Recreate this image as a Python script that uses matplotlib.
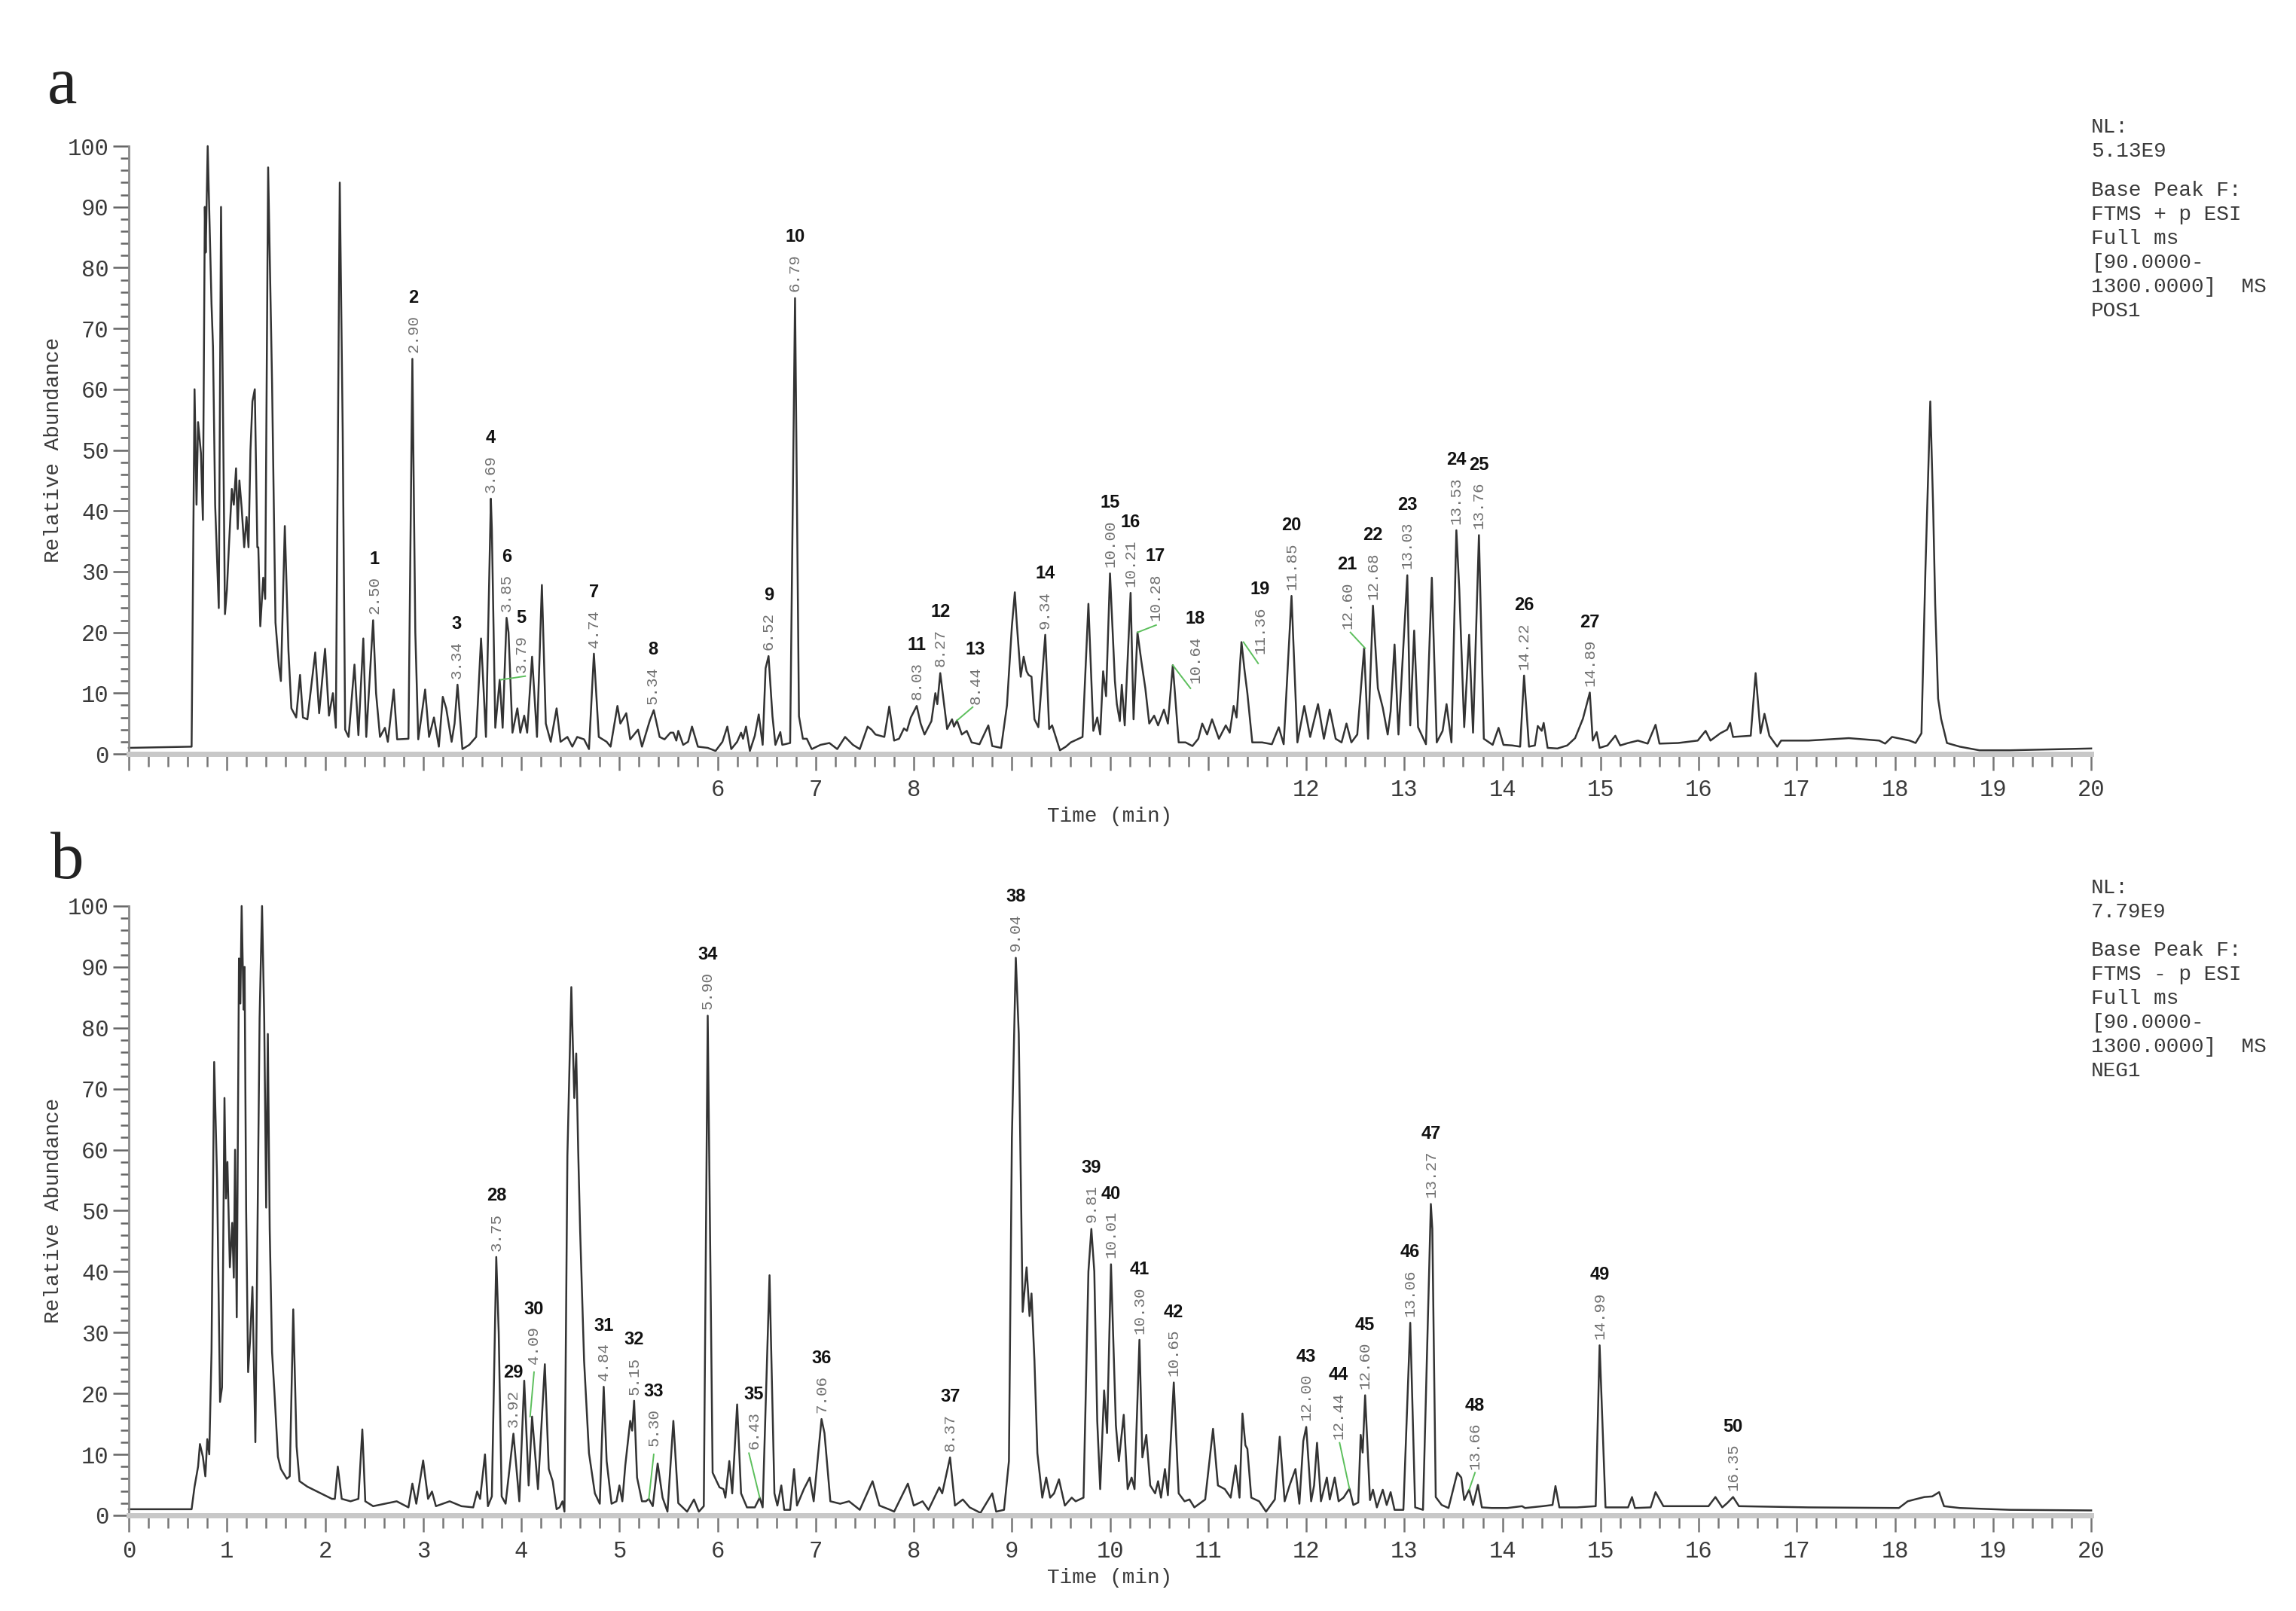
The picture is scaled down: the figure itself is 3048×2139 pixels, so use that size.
import matplotlib
matplotlib.use("Agg")
import matplotlib.pyplot as plt
from matplotlib.ticker import MultipleLocator, FixedLocator, FixedFormatter

# base peak chromatogram, positive mode (time min, relative abundance %)
pos_trace = [
    (0.00, 1.0), (0.64, 1.2), (0.67, 60), (0.69, 41), (0.706, 54.6), (0.735, 49.5), (0.755, 38.5),
    (0.775, 90), (0.784, 82.5), (0.804, 100), (0.843, 74), (0.858, 67), (0.88, 41), (0.917, 24),
    (0.94, 90), (0.98, 23), (1.00, 27), (1.02, 34), (1.05, 43.6), (1.07, 41), (1.093, 47), (1.11, 37),
    (1.127, 45), (1.15, 40.5), (1.176, 34), (1.20, 39), (1.22, 34), (1.24, 50), (1.26, 58), (1.284, 60),
    (1.31, 34), (1.32, 34), (1.34, 21), (1.37, 29), (1.39, 25.5), (1.42, 96.5), (1.46, 61), (1.495, 21.6),
    (1.53, 14.5), (1.55, 12), (1.59, 37.5), (1.627, 17), (1.657, 7.5), (1.706, 6), (1.745, 13), (1.775, 6),
    (1.82, 5.7), (1.90, 16.7), (1.94, 6.7), (2.00, 17.3), (2.04, 6.3), (2.08, 10), (2.11, 4.3), (2.15, 94),
    (2.18, 53), (2.205, 4), (2.24, 2.8), (2.30, 14.7), (2.34, 3.1), (2.39, 19), (2.42, 2.8), (2.49, 22),
    (2.52, 10), (2.56, 2.8), (2.61, 4.3), (2.64, 2), (2.70, 10.6), (2.735, 2.4), (2.85, 2.5), (2.89, 65),
    (2.92, 20), (2.95, 2.4), (3.02, 10.6), (3.06, 2.8), (3.11, 6), (3.16, 1.2), (3.20, 9.4), (3.235, 7.5),
    (3.29, 2), (3.32, 5), (3.35, 11.4), (3.40, 0.8), (3.47, 1.5), (3.54, 2.8), (3.59, 19), (3.64, 2.8),
    (3.69, 42), (3.70, 37), (3.735, 4.3), (3.78, 12.2), (3.81, 4.3), (3.85, 22.4), (3.87, 20), (3.91, 3.5),
    (3.96, 7.5), (3.99, 3.5), (4.03, 6.3), (4.06, 3.5), (4.11, 16), (4.16, 2.8), (4.21, 27.8), (4.25, 5),
    (4.30, 2), (4.36, 7.5), (4.40, 2), (4.47, 2.8), (4.52, 1.2), (4.57, 2.8), (4.64, 2.4), (4.69, 0.8),
    (4.74, 16.5), (4.79, 2.8), (4.87, 2), (4.91, 1.2), (4.98, 7.9), (5.01, 5), (5.07, 6.7), (5.11, 2.4),
    (5.19, 4), (5.23, 1.2), (5.31, 5.5), (5.35, 7.2), (5.41, 2.8), (5.46, 2.4), (5.52, 3.5), (5.55, 3.5),
    (5.58, 2.2), (5.60, 3.8), (5.65, 1.5), (5.70, 2.0), (5.74, 4.5), (5.80, 1.2), (5.90, 1.0), (5.98, 0.5),
    (6.05, 2.0), (6.10, 4.5), (6.14, 0.8), (6.20, 2.0), (6.24, 3.5), (6.26, 2.5), (6.29, 4.5), (6.33, 0.5),
    (6.38, 3.0), (6.42, 6.5), (6.46, 1.5), (6.49, 14.1), (6.52, 16.1), (6.56, 6.2), (6.59, 1.5), (6.64, 3.6),
    (6.66, 1.5), (6.74, 1.8), (6.79, 75), (6.83, 6.2), (6.87, 2.5), (6.91, 2.5), (6.96, 0.8), (7.05, 1.5),
    (7.14, 1.8), (7.22, 0.8), (7.30, 2.8), (7.38, 1.5), (7.45, 0.8), (7.53, 4.5), (7.57, 4.0), (7.61, 3.2),
    (7.70, 2.8), (7.75, 7.8), (7.80, 2.2), (7.85, 2.5), (7.90, 4.2), (7.93, 3.8), (7.97, 6.0), (8.03, 7.9),
    (8.07, 5.0), (8.11, 3.2), (8.18, 5.4), (8.22, 10), (8.24, 8.2), (8.27, 13.3), (8.34, 4.1), (8.39, 5.7),
    (8.41, 4.5), (8.44, 5.5), (8.49, 3.2), (8.54, 3.8), (8.59, 1.9), (8.67, 1.6), (8.76, 4.7), (8.80, 1.3),
    (8.89, 1.0), (8.95, 8), (8.97, 13.3), (9.00, 21), (9.03, 26.6), (9.05, 21.5), (9.09, 12.7), (9.12, 16),
    (9.15, 13.6), (9.17, 13), (9.20, 12.7), (9.23, 5.7), (9.27, 4.4), (9.34, 19.6), (9.38, 4.1), (9.41, 4.7),
    (9.49, 0.6), (9.55, 1.2), (9.60, 1.9), (9.68, 2.5), (9.72, 2.8), (9.78, 24.7), (9.83, 3.8), (9.87, 6),
    (9.90, 3.2), (9.93, 13.6), (9.96, 9.5), (10.00, 29.7), (10.05, 12), (10.07, 8.2), (10.10, 5.4),
    (10.12, 11.4), (10.15, 4.7), (10.21, 26.5), (10.24, 5.7), (10.28, 20), (10.32, 15.2), (10.36, 10.8),
    (10.40, 5), (10.45, 6.3), (10.49, 4.7), (10.55, 7.3), (10.59, 5), (10.64, 14.6), (10.70, 1.9),
    (10.77, 1.9), (10.84, 1.3), (10.90, 2.5), (10.94, 5), (10.99, 3.2), (11.04, 5.7), (11.11, 2.5),
    (11.18, 4.7), (11.22, 3.5), (11.26, 7.9), (11.29, 6), (11.34, 18.4), (11.37, 13.9), (11.40, 10),
    (11.45, 1.9), (11.55, 1.9), (11.65, 1.6), (11.72, 4.4), (11.77, 1.6), (11.85, 26), (11.91, 1.9),
    (11.98, 7.9), (12.04, 2.8), (12.12, 8.2), (12.18, 2.5), (12.24, 7.3), (12.30, 2.5), (12.36, 1.9),
    (12.41, 5), (12.46, 1.9), (12.52, 3.2), (12.59, 17.4), (12.63, 2.5), (12.68, 24.4), (12.73, 10.8),
    (12.78, 7.6), (12.83, 3.2), (12.86, 7), (12.90, 18), (12.94, 3.2), (13.03, 29.4), (13.06, 4.7),
    (13.10, 20.3), (13.14, 4.4), (13.22, 1.6), (13.28, 29), (13.33, 1.9), (13.39, 3.8), (13.43, 8.2),
    (13.48, 1.9), (13.53, 36.8), (13.56, 27), (13.61, 4.4), (13.66, 19.6), (13.70, 3.5), (13.76, 36),
    (13.81, 2.5), (13.90, 1.5), (13.96, 4.3), (14.01, 1.5), (14.10, 1.4), (14.18, 1.2), (14.22, 12.9),
    (14.27, 1.2), (14.33, 1.4), (14.36, 4.6), (14.40, 3.8), (14.42, 5.1), (14.46, 1.0), (14.56, 0.9),
    (14.66, 1.4), (14.74, 2.6), (14.82, 5.8), (14.89, 10.1), (14.92, 2.2), (14.96, 3.6), (14.99, 1.0),
    (15.07, 1.4), (15.15, 3.0), (15.20, 1.4), (15.28, 1.8), (15.38, 2.2), (15.48, 1.7), (15.56, 4.8),
    (15.60, 1.7), (15.79, 1.8), (15.99, 2.2), (16.07, 3.8), (16.12, 2.2), (16.22, 3.4), (16.29, 4.0),
    (16.32, 5.1), (16.35, 2.8), (16.53, 3.0), (16.58, 13.3), (16.63, 3.4), (16.67, 6.6), (16.72, 3.0),
    (16.80, 1.2), (16.84, 2.2), (17.12, 2.2), (17.53, 2.6), (17.84, 2.2), (17.90, 1.7), (17.97, 2.8),
    (18.15, 2.2), (18.21, 1.8), (18.27, 3.4), (18.31, 30), (18.36, 58), (18.39, 40), (18.41, 24.7),
    (18.44, 9.1), (18.47, 5.8), (18.53, 1.8), (18.66, 1.2), (18.86, 0.6), (19.17, 0.6), (20.0, 0.9),
]

# base peak chromatogram, negative mode
neg_trace = [
    (0.00, 1.0), (0.64, 1.0), (0.67, 4.7), (0.706, 8), (0.725, 11.7), (0.755, 9.6), (0.78, 6.4),
    (0.80, 12.5), (0.82, 10), (0.843, 26.8), (0.87, 74.4), (0.90, 55), (0.93, 18.6), (0.95, 21),
    (0.975, 68.5), (0.99, 52), (1.005, 58), (1.03, 40.7), (1.054, 48), (1.07, 39), (1.083, 60), (1.10, 32.5),
    (1.123, 91.4), (1.137, 84), (1.15, 100), (1.17, 83), (1.18, 90), (1.196, 50), (1.216, 23.5),
    (1.235, 28.5), (1.26, 37.5), (1.29, 12), (1.333, 81.6), (1.358, 100), (1.38, 81.6), (1.40, 50.5),
    (1.417, 79), (1.436, 47), (1.46, 26.8), (1.485, 20), (1.52, 9.6), (1.55, 7.6), (1.61, 6), (1.64, 6.4),
    (1.676, 33.8), (1.71, 11.3), (1.74, 5.6), (1.82, 4.7), (1.92, 3.9), (2.07, 2.7), (2.10, 2.7), (2.13, 8),
    (2.17, 2.7), (2.26, 2.3), (2.34, 2.7), (2.38, 14.1), (2.41, 2.3), (2.49, 1.5), (2.61, 1.9), (2.73, 2.3),
    (2.85, 1.3), (2.89, 5.2), (2.93, 1.9), (3.00, 9), (3.02, 6.4), (3.05, 2.7), (3.09, 3.9), (3.13, 1.5),
    (3.27, 2.3), (3.39, 1.5), (3.51, 1.3), (3.55, 3.9), (3.58, 2.7), (3.63, 10), (3.66, 1.5), (3.70, 3.1),
    (3.745, 42.4), (3.77, 30), (3.80, 3.1), (3.84, 1.9), (3.92, 13.4), (3.98, 2.3), (4.03, 22.1),
    (4.075, 4.9), (4.11, 16.2), (4.17, 4.3), (4.24, 24.8), (4.28, 7.6), (4.32, 5.6), (4.36, 1.0),
    (4.39, 1.3), (4.42, 2.3), (4.44, 0.6), (4.47, 59), (4.51, 86.7), (4.54, 68.5), (4.56, 75.8),
    (4.58, 59.9), (4.60, 46.6), (4.64, 25.4), (4.69, 10.2), (4.75, 3.6), (4.80, 1.9), (4.84, 21.1),
    (4.87, 8.9), (4.92, 1.9), (4.97, 2.3), (5.00, 4.9), (5.03, 2.3), (5.06, 8.2), (5.11, 15.5),
    (5.13, 13.9), (5.15, 18.8), (5.18, 6.2), (5.23, 2.3), (5.27, 2.3), (5.30, 2.7), (5.34, 1.5),
    (5.39, 8.5), (5.44, 2.9), (5.49, 0.6), (5.55, 15.5), (5.60, 2.0), (5.69, 0.6), (5.76, 2.6),
    (5.81, 0.6), (5.86, 1.5), (5.90, 82), (5.95, 7), (6.02, 4.6), (6.06, 4.3), (6.08, 2.9), (6.12, 8.9),
    (6.15, 3.6), (6.20, 18.2), (6.24, 3.6), (6.30, 1.3), (6.38, 1.3), (6.43, 2.9), (6.46, 1.3),
    (6.53, 39.4), (6.58, 3.6), (6.61, 1.6), (6.65, 4.9), (6.68, 0.9), (6.74, 0.9), (6.78, 7.6),
    (6.81, 1.6), (6.88, 4.3), (6.94, 6.2), (6.98, 2.3), (7.06, 15.8), (7.09, 13.5), (7.15, 2.3),
    (7.25, 1.9), (7.34, 2.3), (7.45, 0.9), (7.58, 5.6), (7.65, 1.6), (7.76, 0.9), (7.80, 0.6),
    (7.94, 5.2), (8.00, 1.6), (8.09, 2.3), (8.15, 0.9), (8.26, 4.6), (8.29, 3.6), (8.37, 9.5),
    (8.42, 1.6), (8.50, 2.6), (8.57, 1.3), (8.68, 0.4), (8.80, 3.6), (8.84, 0.6), (8.92, 0.9),
    (8.97, 8.9), (9.00, 61.9), (9.04, 91.5), (9.07, 79), (9.11, 33.4), (9.15, 40.7), (9.18, 32.7),
    (9.20, 36.4), (9.23, 25.4), (9.26, 10.2), (9.31, 2.9), (9.35, 6.2), (9.39, 2.9), (9.43, 3.6),
    (9.48, 5.9), (9.54, 1.6), (9.61, 2.9), (9.65, 2.3), (9.73, 2.9), (9.78, 40), (9.81, 47), (9.84, 40),
    (9.87, 15.5), (9.90, 4.3), (9.94, 20.5), (9.97, 13.5), (10.01, 41.2), (10.06, 14.8), (10.09, 8.9),
    (10.14, 16.5), (10.18, 4.3), (10.22, 6.2), (10.25, 4.3), (10.30, 28.8), (10.33, 9.5), (10.37, 13.2),
    (10.41, 4.9), (10.46, 3.6), (10.49, 5.6), (10.52, 2.9), (10.56, 7.6), (10.59, 3.3), (10.65, 21.8),
    (10.70, 3.6), (10.76, 2.3), (10.81, 2.6), (10.86, 1.3), (10.97, 2.6), (11.05, 14.2), (11.10, 4.9),
    (11.17, 4.3), (11.23, 2.9), (11.28, 8.2), (11.32, 2.9), (11.35, 16.7), (11.38, 11.5), (11.40, 10.9),
    (11.44, 2.9), (11.52, 2.3), (11.59, 0.6), (11.68, 2.6), (11.73, 12.9), (11.78, 2.3), (11.83, 4.9),
    (11.89, 7.6), (11.93, 1.9), (11.97, 12.2), (12.00, 14.5), (12.05, 2.3), (12.08, 4.9), (12.11, 11.9),
    (12.15, 2.3), (12.21, 6.2), (12.24, 2.6), (12.29, 6.2), (12.33, 2.3), (12.38, 2.9), (12.44, 4.4),
    (12.48, 1.7), (12.53, 2.1), (12.555, 13.2), (12.575, 10.3), (12.60, 19.7), (12.65, 2.5), (12.68, 4.2),
    (12.72, 1.3), (12.78, 4.2), (12.82, 1.7), (12.86, 3.8), (12.90, 0.9), (12.99, 0.9), (13.06, 31.6),
    (13.11, 1.3), (13.19, 0.9), (13.27, 51.1), (13.285, 47), (13.32, 3), (13.38, 1.7), (13.45, 1.2),
    (13.54, 7), (13.58, 6.2), (13.61, 2.5), (13.66, 4.2), (13.70, 1.7), (13.75, 5), (13.79, 1.3),
    (13.89, 1.2), (14.05, 1.2), (14.20, 1.5), (14.23, 1.2), (14.41, 1.5), (14.51, 1.7), (14.54, 4.8),
    (14.58, 1.3), (14.76, 1.3), (14.95, 1.5), (14.99, 27.9), (15.05, 1.3), (15.28, 1.3), (15.32, 3),
    (15.35, 1.2), (15.51, 1.3), (15.56, 3.8), (15.64, 1.5), (16.10, 1.5), (16.17, 3), (16.24, 1.3),
    (16.29, 2), (16.35, 3), (16.41, 1.5), (17.12, 1.3), (18.04, 1.2), (18.13, 2.3), (18.20, 2.6),
    (18.30, 3), (18.38, 3.1), (18.45, 3.8), (18.50, 1.5), (18.66, 1.2), (19.17, 0.9), (20.0, 0.8),
]

pos_peak_no = list(range(1, 28))
pos_peak_rt = [2.50, 2.90, 3.34, 3.69, 3.79, 3.85, 4.74, 5.34, 6.52, 6.79, 8.03, 8.27, 8.44, 9.34,
               10.00, 10.21, 10.28, 10.64, 11.36, 11.85, 12.60, 12.68, 13.03, 13.53, 13.76, 14.22, 14.89]
pos_peak_height = [22, 65, 11.4, 42, 12.2, 22.4, 16.5, 7.2, 16.1, 75, 7.9, 13.3, 5.5, 19.6,
                   29.7, 26.5, 20, 14.6, 18.4, 26, 17.4, 24.4, 29.4, 36.8, 36, 12.9, 10.1]

neg_peak_no = list(range(28, 51))
neg_peak_rt = [3.75, 3.92, 4.09, 4.84, 5.15, 5.30, 5.90, 6.43, 7.06, 8.37, 9.04, 9.81, 10.01,
               10.30, 10.65, 12.00, 12.44, 12.60, 13.06, 13.27, 13.66, 14.99, 16.35]
neg_peak_height = [42.4, 13.4, 16.2, 21.1, 18.8, 2.7, 82, 2.9, 15.8, 9.5, 91.5, 47, 41.2,
                   28.8, 21.8, 14.5, 4.4, 19.7, 31.6, 51.1, 4.2, 27.9, 3.0]

pos_info = ["NL:\n5.13E9", "Base Peak F:\nFTMS + p ESI\nFull ms\n[90.0000-\n1300.0000]  MS\nPOS1"]
neg_info = ["NL:\n7.79E9", "Base Peak F:\nFTMS - p ESI\nFull ms\n[90.0000-\n1300.0000]  MS\nNEG1"]

# labels moved off their peak: label x, label bottom, leader end x, leader end y
pos_leaders = {5: (4.00, 13.4, 4.04, 12.8), 13: (8.63, 8.2, 8.60, 7.7), 17: (10.46, 22.0, 10.47, 21.2),
               18: (10.87, 11.7, 10.82, 10.8), 19: (11.53, 16.5, 11.51, 14.9), 21: (12.42, 20.6, 12.45, 20.0)}
neg_leaders = {30: (4.13, 24.8, 4.13, 23.5), 33: (5.35, 11.4, 5.35, 10.0), 35: (6.37, 10.9, 6.32, 10.2),
               44: (12.33, 12.5, 12.34, 11.9), 48: (13.72, 7.5, 13.72, 7.0)}

MONO = "Liberation Mono"
TXT = "#3a3a3a"


def draw_panel(ax, trace, nos, rts, heights, leaders, shown_ticks):
    t = [p[0] for p in trace]
    y = [p[1] for p in trace]
    ax.plot(t, y, color="#333333", lw=0.9, clip_on=False)

    for no, rt, h in zip(nos, rts, heights):
        if no in leaders:
            lx, ly, ex, ey = leaders[no]
            ax.plot([rt, ex], [h, ey], color="#5cbf5c", lw=0.7)
            anchor, off = (lx, ly), 0
        else:
            anchor, off = (rt, h), 3
        rt_txt = ax.annotate(f"{rt:.2f}", xy=anchor, xytext=(0, off), textcoords="offset points",
                             rotation=90, ha="center", va="bottom", fontsize=7.5,
                             color="#707070", family=MONO)
        ax.annotate(str(no), xy=(0.5, 1), xycoords=rt_txt, xytext=(0, 4), textcoords="offset points",
                    ha="center", va="bottom", fontsize=8.5, fontweight="bold",
                    family="Liberation Sans", color="#111111")

    ax.set_xlim(0, 20)
    ax.set_ylim(0, 100)
    ax.spines["top"].set_visible(False)
    ax.spines["right"].set_visible(False)
    ax.spines["left"].set_color("#8a8a8a")
    ax.spines["left"].set_linewidth(1.0)
    ax.spines["bottom"].set_color("#c8c8c8")
    ax.spines["bottom"].set_linewidth(2.5)

    ax.xaxis.set_major_locator(FixedLocator(range(0, 21)))
    ax.xaxis.set_major_formatter(FixedFormatter([str(i) if i in shown_ticks else "" for i in range(0, 21)]))
    ax.xaxis.set_minor_locator(MultipleLocator(0.2))
    ax.yaxis.set_major_locator(MultipleLocator(10))
    ax.yaxis.set_minor_locator(MultipleLocator(2))
    ax.tick_params(axis="x", which="major", length=8, width=0.9, color="#777777", pad=4,
                   labelsize=11, labelcolor=TXT)
    ax.tick_params(axis="x", which="minor", length=6, width=0.9, color="#777777")
    ax.tick_params(axis="y", which="major", length=7.5, width=0.9, color="#666666", pad=2,
                   labelsize=11, labelcolor=TXT)
    ax.tick_params(axis="y", which="minor", length=4, width=0.9, color="#666666")
    for lab in ax.get_xticklabels() + ax.get_yticklabels():
        lab.set_family(MONO)

    ax.set_xlabel("Time (min)", fontsize=10, family=MONO, color=TXT, va="center")
    ax.xaxis.set_label_coords(0.5, -0.103)
    ax.set_ylabel("Relative Abundance", fontsize=10, family=MONO, color=TXT, va="center")
    ax.yaxis.set_label_coords(-0.0384, 0.5)


fig = plt.figure(figsize=(15.24, 10.695), dpi=200)
ax_a = fig.add_axes([0.0561, 0.532, 0.8547, 0.3773])
ax_b = fig.add_axes([0.0561, 0.0594, 0.8547, 0.3782])

draw_panel(ax_a, pos_trace, pos_peak_no, pos_peak_rt, pos_peak_height, pos_leaders,
           [6, 7, 8, 12, 13, 14, 15, 16, 17, 18, 19, 20])
draw_panel(ax_b, neg_trace, neg_peak_no, neg_peak_rt, neg_peak_height, neg_leaders, list(range(0, 21)))

fig.text(0.0205, 0.936, "a", fontsize=32, family="Liberation Serif", color="#222222", va="baseline")
fig.text(0.022, 0.455, "b", fontsize=32, family="Liberation Serif", color="#222222", va="baseline")

for info, tops in ((pos_info, (0.927, 0.888)), (neg_info, (0.4549, 0.4161))):
    for block, top in zip(info, tops):
        fig.text(0.9108, top, block, fontsize=10, family=MONO, color=TXT, va="top", ha="left",
                 linespacing=1.3)

fig.savefig("out.png", dpi=200, facecolor="white")
